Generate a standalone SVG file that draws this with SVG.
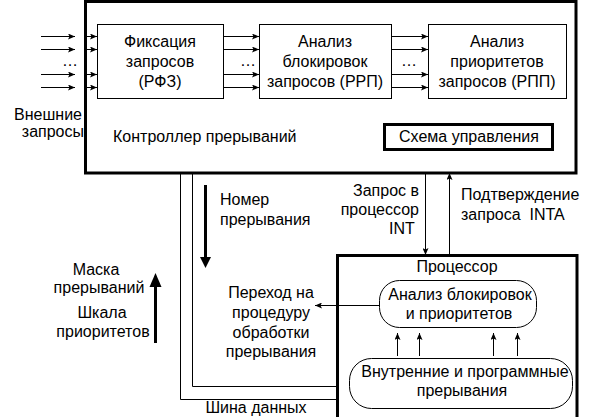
<svg xmlns="http://www.w3.org/2000/svg" width="599" height="417" viewBox="0 0 599 417">
<style>
text{font-family:"Liberation Sans",Arial,sans-serif;font-size:16px;fill:#000;white-space:pre}
.m{text-anchor:middle}
.e{text-anchor:end}
.thick{fill:none;stroke:#000;stroke-width:3}
.thin{fill:none;stroke:#000;stroke-width:1}
.box{fill:#fff;stroke:#000;stroke-width:1}
.ar{stroke:#000;stroke-width:1;fill:none;marker-end:url(#ah)}
</style>
<defs>
<marker id="ah" markerWidth="8" markerHeight="6" refX="7" refY="3" orient="auto" markerUnits="userSpaceOnUse">
<path d="M0,0 L7,3 L0,6 L1.5,3 z" fill="#000"/>
</marker>
</defs>
<rect width="599" height="417" fill="#fff"/>

<g id="controller">
<rect class="thick" x="85.5" y="1.5" width="490.5" height="171.5"/>
<text x="113" y="142">Контроллер прерываний</text>
</g>
<g id="rfz">
<rect class="box" x="97.5" y="24.5" width="126" height="74"/>
<text class="m" x="160" y="47">Фиксация</text>
<text class="m" x="160" y="67">запросов</text>
<text class="m" x="160" y="87">(РФЗ)</text>
</g>
<g id="rrp">
<rect class="box" x="259.5" y="24.5" width="132" height="74"/>
<text class="m" x="325" y="47">Анализ</text>
<text class="m" x="325" y="67">блокировок</text>
<text class="m" x="325" y="87">запросов (РРП)</text>
</g>
<g id="rpp">
<rect class="box" x="428.5" y="24.5" width="138" height="74"/>
<text class="m" x="497" y="47">Анализ</text>
<text class="m" x="497" y="67">приоритетов</text>
<text class="m" x="497" y="87">запросов (РПП)</text>
</g>
<g id="control">
<rect class="thick" x="384.5" y="124.5" width="168" height="25"/>
<text class="m" x="469" y="142">Схема управления</text>
</g>
<g id="external">
<text class="e" x="82" y="120">Внешние</text>
<text class="e" x="84" y="137">запросы</text>
</g>
<g id="processor">
<rect class="thick" x="337.5" y="255.5" width="239.5" height="170"/>
<text class="m" x="457" y="272">Процессор</text>
</g>
<g id="analysis">
<rect class="box" x="379.5" y="280.5" width="157" height="47" rx="20" ry="20"/>
<text class="m" x="460" y="300">Анализ блокировок</text>
<text class="m" x="459" y="319">и приоритетов</text>
</g>
<g id="internal">
<rect class="box" x="349.5" y="358.5" width="223" height="50" rx="22" ry="22"/>
<text class="m" x="465" y="377">Внутренние и программные</text>
<text class="m" x="462" y="396">прерывания</text>
</g>

<g id="connectors">
<line class="ar" x1="41" y1="36.5" x2="75" y2="36.5"/>
<line class="ar" x1="41" y1="49.5" x2="75" y2="49.5"/>
<line class="ar" x1="41" y1="74.5" x2="75" y2="74.5"/>
<line class="ar" x1="41" y1="87.5" x2="75" y2="87.5"/>
<line class="ar" x1="87" y1="36.5" x2="97" y2="36.5"/>
<line class="ar" x1="87" y1="49.5" x2="97" y2="49.5"/>
<line class="ar" x1="87" y1="74.5" x2="97" y2="74.5"/>
<line class="ar" x1="87" y1="87.5" x2="97" y2="87.5"/>
<line class="ar" x1="224" y1="36.5" x2="259" y2="36.5"/>
<line class="ar" x1="224" y1="49.5" x2="259" y2="49.5"/>
<line class="ar" x1="224" y1="74.5" x2="259" y2="74.5"/>
<line class="ar" x1="224" y1="87.5" x2="259" y2="87.5"/>
<line class="ar" x1="392" y1="36.5" x2="428" y2="36.5"/>
<line class="ar" x1="392" y1="49.5" x2="428" y2="49.5"/>
<line class="ar" x1="392" y1="74.5" x2="428" y2="74.5"/>
<line class="ar" x1="392" y1="87.5" x2="428" y2="87.5"/>
<path class="thin" d="M180.5,173V399.5H337M192.5,173V386.5H337"/>
<line class="ar" x1="425.5" y1="173" x2="425.5" y2="255"/>
<line class="ar" x1="449.5" y1="255" x2="449.5" y2="173"/>
<line class="ar" x1="379" y1="305.5" x2="315" y2="305.5"/>
<line class="ar" x1="397.5" y1="356" x2="397.5" y2="333"/>
<line class="ar" x1="419.5" y1="356" x2="419.5" y2="333"/>
<line class="ar" x1="493.5" y1="356" x2="493.5" y2="333"/>
<line class="ar" x1="517.5" y1="356" x2="517.5" y2="333"/>
<line x1="205.5" y1="185" x2="205.5" y2="260" stroke="#000" stroke-width="3"/>
<polygon points="200,257 211,257 205.5,268" fill="#000"/>
<line x1="155.5" y1="343" x2="155.5" y2="284" stroke="#000" stroke-width="3"/>
<polygon points="149.5,287 161.5,287 155.5,273" fill="#000"/>
</g>

<g id="labels">
<text class="m" x="70" y="66">…</text>
<text class="m" x="248" y="66">…</text>
<text class="m" x="409" y="66">…</text>
<text x="220" y="205">Номер</text>
<text x="220" y="225">прерывания</text>
<text class="e" x="419" y="196">Запрос в</text>
<text class="e" x="419" y="215">процессор</text>
<text x="389" y="234">INT</text>
<text x="461" y="200">Подтверждение</text>
<text x="461" y="220">запроса  INTA</text>
<text class="m" x="96" y="275">Маска</text>
<text class="m" x="99" y="293">прерываний</text>
<text class="m" x="102" y="318">Шкала</text>
<text class="m" x="103" y="337">приоритетов</text>
<text class="m" x="271" y="298">Переход на</text>
<text class="m" x="271" y="318">процедуру</text>
<text class="m" x="271" y="338">обработки</text>
<text class="m" x="271" y="357">прерывания</text>
<text class="m" x="256" y="413">Шина данных</text>
</g>
</svg>
